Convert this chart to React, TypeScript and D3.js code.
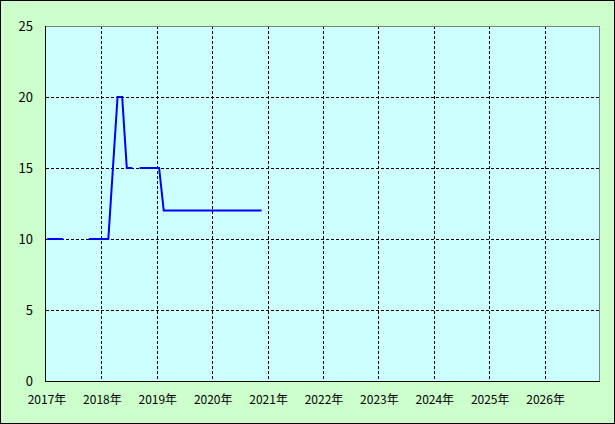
import React from "react";
import * as d3 from "d3";

const W = 615;
const H = 424;
const margin = { left: 46, top: 26, right: 600, bottom: 381 };

const years = [2017, 2018, 2019, 2020, 2021, 2022, 2023, 2024, 2025, 2026];
const yTicks = [0, 5, 10, 15, 20, 25];

// monthly values starting Jan 2017 (null = no data)
const monthIndex = [
  0, 1, 2, 3, 4, 5, 6, 7, 8, 9, 10, 11,
  12, 13, 14, 15, 16, 17, 18, 19, 20, 21, 22, 23,
  24, 25, 26, 27, 28, 29, 30, 31, 32, 33, 34, 35,
  36, 37, 38, 39, 40, 41, 42, 43, 44, 45, 46,
];
const values: (number | null)[] = [
  10, 10, 10, 10, null, null, null, null, null, 10, 10, 10,
  10, 10, 15, 20, 20, 15, 15, null, 15, 15, 15, 15,
  15, 12, 12, 12, 12, 12, 12, 12, 12, 12, 12, 12,
  12, 12, 12, 12, 12, 12, 12, 12, 12, 12, 12,
];

export default function App() {
  const x = d3.scaleLinear().domain([2017, 2027]).range([margin.left, margin.right]);
  const y = d3.scaleLinear().domain([0, 25]).range([margin.bottom, margin.top]);

  const pts = monthIndex.map((m, i) => ({ t: 2017 + (m + 0.5) / 12, v: values[i] }));
  const line = d3
    .line<{ t: number; v: number | null }>()
    .defined((d) => d.v !== null)
    .x((d) => x(d.t))
    .y((d) => y(d.v as number));

  const pl = margin.left, pr = margin.right, pt = margin.top, pb = margin.bottom;

  return (
    <svg
      width={W}
      height={H}
      style={{ position: "absolute", left: 0, top: 0, display: "block" }}
      fontFamily="'Noto Sans CJK JP', 'DejaVu Sans', sans-serif"
    >
      <rect x={0.5} y={0.5} width={W - 1} height={H - 1} fill="#CCFFCC" stroke="#000" />
      <rect x={pl} y={pt} width={pr - pl} height={pb - pt} fill="#CCFFFF" />
      {years.slice(1).map((yr) => (
        <line
          key={"gx" + yr}
          x1={Math.round(x(yr)) + 0.5}
          x2={Math.round(x(yr)) + 0.5}
          y1={pt}
          y2={pb}
          stroke="#000"
          strokeDasharray="3,2"
          shapeRendering="crispEdges"
        />
      ))}
      {yTicks.slice(1, -1).map((v) => (
        <line
          key={"gy" + v}
          x1={pl}
          x2={pr}
          y1={Math.round(y(v)) + 0.5}
          y2={Math.round(y(v)) + 0.5}
          stroke="#000"
          strokeDasharray="3,2"
          shapeRendering="crispEdges"
        />
      ))}
      <line x1={pl} x2={pr} y1={pt + 0.5} y2={pt + 0.5} stroke="#808080" shapeRendering="crispEdges" />
      <line x1={pr - 0.5} x2={pr - 0.5} y1={pt} y2={pb} stroke="#808080" shapeRendering="crispEdges" />
      <line x1={pl - 0.5} x2={pl - 0.5} y1={pt} y2={pb + 1} stroke="#000" shapeRendering="crispEdges" />
      <line x1={pl} x2={pr} y1={pb + 0.5} y2={pb + 0.5} stroke="#000" shapeRendering="crispEdges" />
      <path d={line(pts) || ""} fill="none" stroke="#0000FF" strokeWidth={2} strokeLinecap="square" />
      {yTicks.map((v) => (
        <text
          key={"ty" + v}
          x={33}
          y={y(v)}
          dy="0.36em"
          textAnchor="end"
          fontSize={13}
          fill="#000"
        >
          {v}
        </text>
      ))}
      {years.map((yr) => (
        <text key={"tx" + yr} x={x(yr) + 1} y={404} textAnchor="middle" fontSize={12} fill="#000">
          {yr + "年"}
        </text>
      ))}
    </svg>
  );
}
